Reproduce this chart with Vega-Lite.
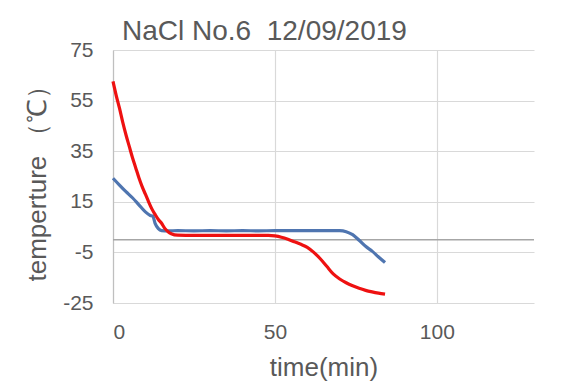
{
  "$schema": "https://vega.github.io/schema/vega-lite/v6.json",
  "width": 421,
  "height": 253,
  "autosize": {"type": "none"},
  "padding": {"left": 113, "top": 50, "right": 34, "bottom": 80},
  "background": "white",
  "title": {
    "text": "NaCl No.6\u00a0 12/09/2019",
    "anchor": "start",
    "frame": "group",
    "dx": 9,
    "fontSize": 28,
    "font": "Liberation Sans",
    "fontWeight": "normal",
    "color": "#595959",
    "offset": -7
  },
  "config": {
    "view": {"stroke": null},
    "axis": {
      "labelFont": "Liberation Sans",
      "titleFont": "Liberation Sans",
      "labelFontSize": 21,
      "titleFontSize": 26,
      "titleFontWeight": "normal",
      "labelColor": "#595959",
      "titleColor": "#595959",
      "gridColor": "#d9d9d9",
      "gridWidth": 1.2,
      "ticks": false
    }
  },
  "datasets": {
    "temps": [
      {"t": 0, "v": 24.3, "s": "1"},
      {"t": 2, "v": 21.6, "s": "1"},
      {"t": 4, "v": 19, "s": "1"},
      {"t": 6, "v": 16.6, "s": "1"},
      {"t": 8, "v": 13.8, "s": "1"},
      {"t": 10, "v": 11, "s": "1"},
      {"t": 11.5, "v": 9.6, "s": "1"},
      {"t": 12.3, "v": 9.3, "s": "1"},
      {"t": 13, "v": 6.5, "s": "1"},
      {"t": 14, "v": 4.4, "s": "1"},
      {"t": 15, "v": 3.6, "s": "1"},
      {"t": 17, "v": 3.5, "s": "1"},
      {"t": 20, "v": 3.6, "s": "1"},
      {"t": 25, "v": 3.5, "s": "1"},
      {"t": 30, "v": 3.6, "s": "1"},
      {"t": 35, "v": 3.5, "s": "1"},
      {"t": 40, "v": 3.6, "s": "1"},
      {"t": 45, "v": 3.5, "s": "1"},
      {"t": 50, "v": 3.6, "s": "1"},
      {"t": 55, "v": 3.6, "s": "1"},
      {"t": 60, "v": 3.6, "s": "1"},
      {"t": 65, "v": 3.6, "s": "1"},
      {"t": 70, "v": 3.6, "s": "1"},
      {"t": 72, "v": 3.2, "s": "1"},
      {"t": 74, "v": 2, "s": "1"},
      {"t": 76, "v": -0.2, "s": "1"},
      {"t": 78, "v": -2.6, "s": "1"},
      {"t": 80, "v": -4.5, "s": "1"},
      {"t": 82, "v": -6.8, "s": "1"},
      {"t": 84, "v": -9, "s": "1"},
      {"t": 0, "v": 62.6, "s": "2"},
      {"t": 1, "v": 57, "s": "2"},
      {"t": 2, "v": 52, "s": "2"},
      {"t": 3, "v": 46.5, "s": "2"},
      {"t": 4, "v": 41.5, "s": "2"},
      {"t": 5, "v": 37, "s": "2"},
      {"t": 6, "v": 32.5, "s": "2"},
      {"t": 7, "v": 28.5, "s": "2"},
      {"t": 8, "v": 24.5, "s": "2"},
      {"t": 9, "v": 21, "s": "2"},
      {"t": 10, "v": 18, "s": "2"},
      {"t": 11, "v": 15, "s": "2"},
      {"t": 12, "v": 12.2, "s": "2"},
      {"t": 13, "v": 10, "s": "2"},
      {"t": 14, "v": 8, "s": "2"},
      {"t": 15, "v": 6.5, "s": "2"},
      {"t": 16, "v": 4.5, "s": "2"},
      {"t": 17, "v": 3.2, "s": "2"},
      {"t": 18, "v": 2.4, "s": "2"},
      {"t": 20, "v": 1.8, "s": "2"},
      {"t": 25, "v": 1.7, "s": "2"},
      {"t": 30, "v": 1.7, "s": "2"},
      {"t": 40, "v": 1.7, "s": "2"},
      {"t": 48, "v": 1.7, "s": "2"},
      {"t": 50, "v": 1.5, "s": "2"},
      {"t": 52, "v": 1, "s": "2"},
      {"t": 54, "v": 0.2, "s": "2"},
      {"t": 56, "v": -0.8, "s": "2"},
      {"t": 58, "v": -1.8, "s": "2"},
      {"t": 60, "v": -3, "s": "2"},
      {"t": 62, "v": -5, "s": "2"},
      {"t": 64, "v": -7.5, "s": "2"},
      {"t": 66, "v": -10.5, "s": "2"},
      {"t": 68, "v": -13.5, "s": "2"},
      {"t": 70, "v": -15.5, "s": "2"},
      {"t": 72, "v": -17, "s": "2"},
      {"t": 74, "v": -18.2, "s": "2"},
      {"t": 76, "v": -19.2, "s": "2"},
      {"t": 78, "v": -20, "s": "2"},
      {"t": 80, "v": -20.6, "s": "2"},
      {"t": 82, "v": -21.1, "s": "2"},
      {"t": 84, "v": -21.5, "s": "2"}
    ],
    "zero": [{"y": 0}]
  },
  "layer": [
    {
      "data": {"name": "zero"},
      "mark": {"type": "rule", "color": "#a6a6a6", "strokeWidth": 1.5},
      "encoding": {
        "y": {"field": "y", "type": "quantitative", "scale": {"domain": [-25, 75], "nice": false}}
      }
    },
    {
      "data": {"name": "temps"},
      "mark": {"type": "line", "strokeWidth": 3.2, "interpolate": "monotone"},
      "encoding": {
        "x": {
          "field": "t",
          "type": "quantitative",
          "title": "time(min)",
          "scale": {"domain": [0, 130], "nice": false},
          "axis": {"values": [0, 50, 100], "domain": false, "labelPadding": 18, "titlePadding": 12, "labelExpr": "'' + datum.value"}
        },
        "y": {
          "field": "v",
          "type": "quantitative",
          "title": "temperture （℃）",
          "scale": {"domain": [-25, 75], "nice": false},
          "axis": {"values": [-25, -5, 15, 35, 55, 75], "domain": true, "domainColor": "#bfbfbf", "domainWidth": 1.2, "labelPadding": 20, "titlePadding": 12, "labelExpr": "'' + datum.value"}
        },
        "color": {
          "field": "s",
          "type": "nominal",
          "scale": {"domain": ["1", "2"], "range": ["#4f75b0", "#ee1111"]},
          "legend": null
        }
      }
    }
  ]
}
